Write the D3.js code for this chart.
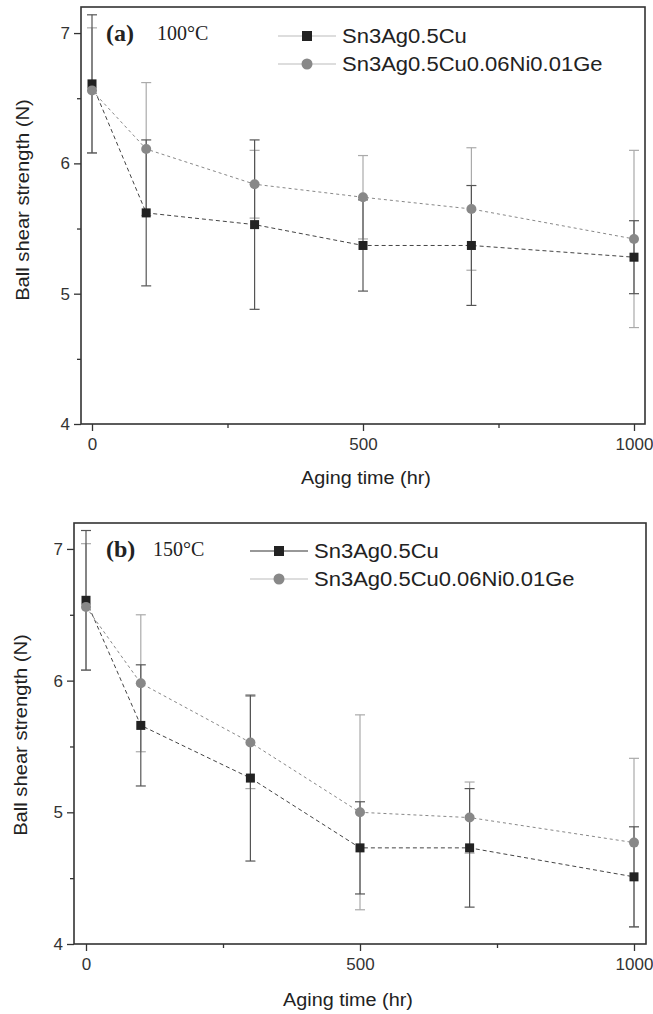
<!DOCTYPE html>
<html><head><meta charset="utf-8">
<script src="https://cdn.jsdelivr.net/npm/d3@7"></script>
<style>body{margin:0;background:#fff}svg{display:block}</style>
</head><body>
<svg id="c" width="653" height="1014"></svg>
<script>
// ---- data ----
const agingTimes = [0, 100, 300, 500, 700, 1000];
const seriesNames = ["Sn3Ag0.5Cu", "Sn3Ag0.5Cu0.06Ni0.01Ge"];
const a_sac = [6.61, 5.62, 5.53, 5.37, 5.37, 5.28];
const a_sacErr = [0.53, 0.56, 0.65, 0.35, 0.46, 0.28];
const a_ni = [6.56, 6.11, 5.84, 5.74, 5.65, 5.42];
const a_niErr = [0.48, 0.51, 0.26, 0.32, 0.47, 0.68];
const b_sac = [6.61, 5.66, 5.26, 4.73, 4.73, 4.51];
const b_sacErr = [0.53, 0.46, 0.63, 0.35, 0.45, 0.38];
const b_ni = [6.56, 5.98, 5.53, 5.00, 4.96, 4.77];
const b_niErr = [0.48, 0.52, 0.35, 0.74, 0.27, 0.64];
const yTickVals = [4, 5, 6, 7];
const yMinorVals = [4.5, 5.5, 6.5];
const xTickVals = [0, 500, 1000];
const xMinorVals = [250, 750];
const panelLabels = ["(a)", "(b)"];
const panelTemps = ["100°C", "150°C"];
const xTitle = "Aging time (hr)";
const yTitle = "Ball shear strength (N)";

const svg = d3.select("#c");
const SANS = "'Liberation Sans', Arial, sans-serif";
const SERIF = "'Liberation Serif', 'Times New Roman', serif";

function stretch(sel, k) {
  sel.each(function () {
    const L = this.getComputedTextLength();
    d3.select(this).attr("textLength", L * k).attr("lengthAdjust", "spacingAndGlyphs");
  });
}

const panels = [
  { sac: a_sac, sacErr: a_sacErr, ni: a_ni, niErr: a_niErr, label: panelLabels[0], temp: panelTemps[0],
    L: 81, R: 645, T: 7, B: 424, xd: [-20.3, 1020.3], yd: [4, 7.2],
    legX: 278, legY: 36, tempX: 157, xTitleX: 366, xTitleY: 484, yTitleX: 29, yTitleY: 200 },
  { sac: b_sac, sacErr: b_sacErr, ni: b_ni, niErr: b_niErr, label: panelLabels[1], temp: panelTemps[1],
    L: 74, R: 646, T: 523, B: 944, xd: [-21.9, 1021.9], yd: [4, 7.197],
    legX: 250, legY: 551, tempX: 153, xTitleX: 348, xTitleY: 1006, yTitleX: 27, yTitleY: 735 }
];

panels.forEach((p, pi) => {
  const x = d3.scaleLinear().domain(p.xd).range([p.L, p.R]);
  const y = d3.scaleLinear().domain(p.yd).range([p.B, p.T]);
  const g = svg.append("g");

  // axes
  const xAxis = d3.axisBottom(x).tickValues(xTickVals).tickSize(7).tickPadding(5).tickFormat(d3.format("d"));
  const gx = g.append("g").attr("transform", `translate(0,${p.B})`).call(xAxis);
  const xMinor = d3.axisBottom(x).tickValues(xMinorVals).tickSize(4).tickFormat("");
  g.append("g").attr("transform", `translate(0,${p.B})`).call(xMinor);
  const yAxis = d3.axisLeft(y).tickValues(yTickVals).tickSize(7).tickPadding(4).tickFormat(d3.format("d"));
  g.append("g").attr("transform", `translate(${p.L},0)`).call(yAxis);
  const yMinor = d3.axisLeft(y).tickValues(yMinorVals).tickSize(4).tickFormat("");
  g.append("g").attr("transform", `translate(${p.L},0)`).call(yMinor);
  g.selectAll(".domain").remove();
  g.selectAll(".tick line").attr("stroke", "#333").attr("stroke-width", 1.3);
  g.selectAll(".tick text").attr("font-family", SANS).attr("font-size", 17).attr("fill", "#333");
  gx.selectAll(".tick text").attr("dy", "0.85em");

  // frame
  g.append("rect").attr("x", p.L).attr("y", p.T).attr("width", p.R - p.L).attr("height", p.B - p.T)
    .attr("fill", "none").attr("stroke", "#333").attr("stroke-width", 1.6);

  const series = [
    { v: p.sac, e: p.sacErr, color: "#222", err: "#555", line: "#444", dash: "4,3", shape: "sq" },
    { v: p.ni, e: p.niErr, color: "#888", err: "#aaa", line: "#888", dash: "3,3", shape: "ci" }
  ];

  // error bars (gray series first)
  [series[1], series[0]].forEach(s => {
    const eg = g.append("g").attr("stroke", s.err).attr("stroke-width", 1.2);
    agingTimes.forEach((t, i) => {
      const cx = x(t), y1 = y(s.v[i] + s.e[i]), y0 = y(s.v[i] - s.e[i]);
      eg.append("line").attr("x1", cx).attr("x2", cx).attr("y1", y1).attr("y2", y0);
      eg.append("line").attr("x1", cx - 5).attr("x2", cx + 5).attr("y1", y1).attr("y2", y1);
      eg.append("line").attr("x1", cx - 5).attr("x2", cx + 5).attr("y1", y0).attr("y2", y0);
    });
  });

  // lines
  const lineGen = d3.line().x((d, i) => x(agingTimes[i])).y(d => y(d));
  series.forEach(s => {
    g.append("path").datum(s.v).attr("d", lineGen).attr("fill", "none")
      .attr("stroke", s.line).attr("stroke-width", 1).attr("stroke-dasharray", s.dash);
  });

  // markers
  series.forEach(s => {
    s.v.forEach((v, i) => {
      if (s.shape === "sq") {
        g.append("rect").attr("x", x(agingTimes[i]) - 4.5).attr("y", y(v) - 4.5)
          .attr("width", 9).attr("height", 9).attr("fill", s.color);
      } else {
        g.append("circle").attr("cx", x(agingTimes[i])).attr("cy", y(v)).attr("r", 5).attr("fill", s.color);
      }
    });
  });

  // legend
  series.forEach((s, k) => {
    const ly = p.legY + k * 28;
    g.append("line").attr("x1", p.legX).attr("x2", p.legX + 58).attr("y1", ly).attr("y2", ly)
      .attr("stroke", pi === 1 && k === 0 ? "#333" : "#bbb").attr("stroke-width", 1.2);
    if (s.shape === "sq") {
      g.append("rect").attr("x", p.legX + 29 - 5).attr("y", ly - 5).attr("width", 10).attr("height", 10).attr("fill", s.color);
    } else {
      g.append("circle").attr("cx", p.legX + 29).attr("cy", ly).attr("r", 5.5).attr("fill", s.color);
    }
    const t = g.append("text").attr("x", p.legX + 64).attr("y", ly + 7).attr("font-family", SANS)
      .attr("font-size", 20).attr("fill", "#222").text(seriesNames[k]);
    stretch(t, 1.1);
  });

  // panel label
  g.append("text").attr("x", 106).attr("y", y(7) + 8).attr("font-family", SERIF).attr("font-weight", "bold")
    .attr("font-size", 24).attr("fill", "#222").text(p.label);
  g.append("text").attr("x", p.tempX).attr("y", y(7) + 7).attr("font-family", SERIF)
    .attr("font-size", 20).attr("fill", "#222").text(p.temp);

  // axis titles
  const xt = g.append("text").attr("x", p.xTitleX).attr("y", p.xTitleY).attr("text-anchor", "middle")
    .attr("font-family", SANS).attr("font-size", 18).attr("fill", "#222").text(xTitle);
  stretch(xt, 1.1);
  const yt = g.append("text").attr("transform", `translate(${p.yTitleX},${p.yTitleY}) rotate(-90)`)
    .attr("text-anchor", "middle").attr("font-family", SANS).attr("font-size", 18).attr("fill", "#222").text(yTitle);
  stretch(yt, 1.12);
});
</script>
</body></html>
